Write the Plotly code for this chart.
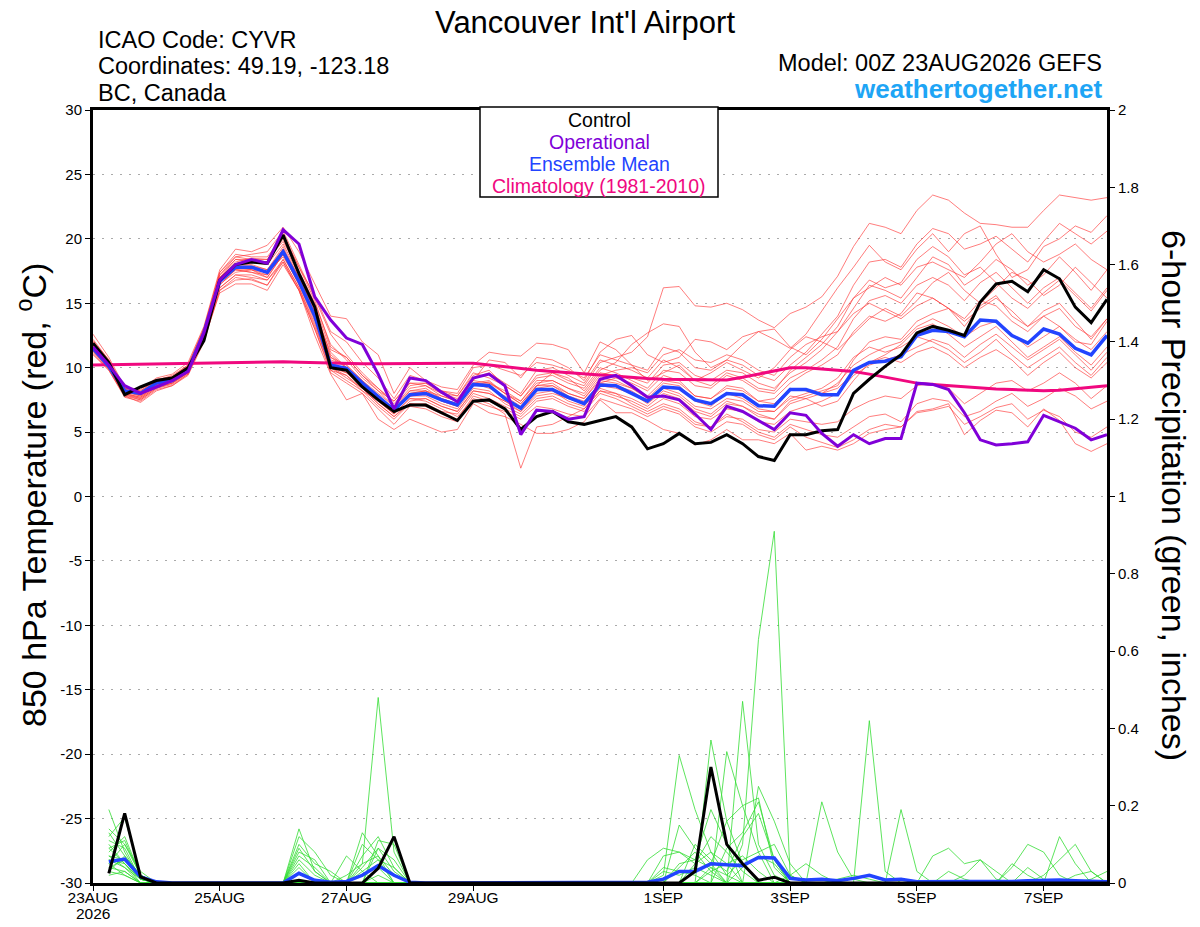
import plotly.graph_objects as go

# forecast steps (hours after 00Z 23AUG2026)
hours_temp = list(range(0, 385, 6))
hours_precip = list(range(6, 385, 6))

tick_hours = [0, 48, 96, 144, 216, 264, 312, 360]
tick_labels = ["23AUG", "25AUG", "27AUG", "29AUG", "1SEP", "3SEP", "5SEP", "7SEP"]
start_year = "2026"

# 850 hPa temperature, deg C
control_temp = [11.9, 10.4, 7.9, 8.5, 9.0, 9.2, 10.0, 12.1, 16.8, 18.0, 18.2, 18.1, 20.3,
                17.3, 14.7, 10.0, 9.8, 8.5, 7.5, 6.6, 7.1, 7.1, 6.5, 5.9, 7.4, 7.5,
                6.8, 5.2, 6.2, 6.6, 5.8, 5.6, 5.9, 6.2, 5.4, 3.7, 4.1, 4.9, 4.1,
                4.2, 4.8, 4.1, 3.1, 2.8, 4.8, 4.8, 5.1, 5.2, 8.0, 9.1, 10.1, 11.0,
                12.7, 13.2, 12.9, 12.5, 15.1, 16.5, 16.7, 15.9, 17.6, 16.9, 14.7, 13.5, 15.3]
operational_temp = [11.6, 10.2, 8.6, 8.0, 8.5, 9.0, 9.7, 12.7, 16.8, 18.0, 18.4, 18.1, 20.7,
                    19.6, 15.5, 13.7, 12.3, 11.8, 9.5, 6.8, 9.2, 9.0, 8.1, 7.35, 9.2, 9.5,
                    8.6, 4.8, 6.7, 6.6, 6.0, 6.2, 9.1, 9.4, 8.6, 7.7, 7.8, 7.5, 6.4,
                    5.2, 7.0, 6.6, 5.9, 5.2, 6.5, 6.3, 4.9, 3.9, 4.8, 4.1, 4.5, 4.5,
                    8.8, 8.7, 8.3, 6.5, 4.4, 4.0, 4.1, 4.25, 6.3, 5.8, 5.3, 4.4, 4.8]
mean_temp = [11.5, 10.1, 8.2, 8.0, 8.8, 9.0, 9.8, 12.7, 16.7, 17.8, 17.8, 17.4, 19.0,
             16.7, 14.0, 10.2, 9.95, 8.8, 7.75, 6.7, 7.9, 8.0, 7.5, 7.1, 8.7, 8.6,
             7.6, 6.85, 8.3, 8.3, 7.7, 7.2, 8.65, 8.6, 8.0, 7.4, 8.5, 8.4, 7.5,
             7.2, 8.0, 7.9, 7.05, 7.0, 8.3, 8.3, 7.9, 7.9, 9.8, 10.4, 10.5, 10.85,
             12.5, 12.9, 12.8, 12.4, 13.7, 13.6, 12.5, 11.9, 13.0, 12.6, 11.5, 11.0, 12.5]
climo_temp = [10.2, 10.22, 10.25, 10.28, 10.3, 10.32, 10.35, 10.37, 10.4, 10.42, 10.43, 10.45, 10.45,
              10.42, 10.38, 10.34, 10.3, 10.3, 10.3, 10.32, 10.33, 10.34, 10.35, 10.35, 10.34, 10.2,
              10.05, 9.9, 9.8, 9.7, 9.6, 9.5, 9.4, 9.3, 9.22, 9.15, 9.1, 9.08, 9.06,
              9.05, 9.05, 9.25, 9.5, 9.75, 10.0, 10.0, 9.9, 9.8, 9.7, 9.5, 9.25, 9.0,
              8.8, 8.7, 8.6, 8.5, 8.4, 8.35, 8.3, 8.25, 8.2, 8.25, 8.35, 8.45, 8.6]

t_m01 = [12.2, 10.6, 8.4, 8.2, 9.0, 9.4, 10.2, 13.0, 17.2, 18.6, 18.8, 19.0, 20.6,
         18.0, 15.4, 12.6, 11.0, 9.6, 8.4, 7.2, 8.6, 8.8, 8.0, 7.8, 9.4, 9.8,
         8.6, 7.8, 9.4, 9.6, 9.0, 8.6, 10.4, 10.8, 11.2, 12.4, 16.2, 16.3, 14.8,
         14.7, 15.0, 14.5, 13.7, 13.1, 14.2, 14.7, 15.5, 17.1, 19.4, 21.2, 20.9, 20.4,
         22.2, 23.4, 23.0, 22.0, 21.2, 21.1, 20.9, 20.9, 22.2, 23.4, 23.2, 23.0, 23.2]
t_m02 = [11.8, 10.3, 8.3, 7.9, 8.7, 9.1, 10.0, 12.9, 17.0, 18.2, 18.5, 18.4, 19.8,
         17.5, 15.0, 11.8, 10.6, 9.2, 8.2, 7.0, 8.4, 8.6, 7.8, 7.4, 9.0, 10.6,
         10.4, 9.2, 10.8, 10.6, 10.0, 9.0, 11.2, 12.2, 12.5, 11.0, 10.4, 10.8, 12.2,
         12.0, 11.4, 12.4, 12.8, 12.2, 11.5, 12.6, 14.4, 16.2, 17.8, 19.5, 18.2, 17.6,
         19.2, 20.4, 19.0, 20.4, 21.0, 18.8, 17.0, 17.6, 19.4, 20.0, 21.0, 20.5, 21.8]
t_m03 = [11.2, 9.9, 8.0, 7.6, 8.5, 8.8, 9.6, 12.4, 16.4, 17.6, 17.6, 17.2, 19.2,
         16.8, 14.2, 10.8, 10.2, 9.0, 7.8, 6.8, 7.8, 8.0, 7.6, 7.2, 8.6, 8.9,
         8.0, 7.2, 8.6, 9.6, 9.2, 8.2, 9.8, 10.4, 11.8, 12.7, 13.4, 13.2, 11.2,
         10.0, 10.6, 11.8, 12.8, 13.0, 11.6, 11.0, 12.2, 13.8, 15.4, 16.2, 17.0, 16.4,
         17.8, 18.2, 17.6, 17.0, 18.2, 19.6, 20.4, 19.0, 18.2, 18.8, 19.6, 18.4, 17.6]
t_m04 = [12.6, 10.8, 8.5, 8.3, 9.2, 9.5, 10.4, 13.2, 17.6, 19.2, 19.0, 19.5, 20.9,
         19.0, 16.5, 14.0, 13.8, 12.0, 11.0, 8.0, 10.0, 9.0, 8.5, 8.3, 10.2, 11.2,
         11.0, 10.9, 11.9, 11.8, 11.4, 9.6, 12.0, 11.4, 10.2, 9.0, 9.6, 10.2, 9.0,
         9.6, 10.4, 9.8, 9.2, 10.0, 11.4, 12.4, 12.0, 11.4, 12.6, 13.8, 14.6, 14.0,
         15.2, 16.6, 17.4, 16.0, 15.0, 16.2, 17.4, 16.8, 15.6, 16.4, 17.8, 16.6, 15.4]
t_m05 = [11.0, 9.8, 7.7, 7.4, 8.3, 8.6, 9.4, 12.0, 16.0, 16.8, 16.9, 16.4, 18.4,
         16.2, 13.4, 10.0, 9.4, 8.4, 7.2, 6.2, 7.4, 7.6, 7.0, 6.6, 8.2, 8.0,
         7.4, 6.6, 7.8, 8.0, 7.6, 7.2, 8.8, 9.2, 8.8, 8.2, 9.4, 9.0, 7.8,
         7.6, 8.6, 8.4, 7.4, 7.6, 8.8, 9.6, 10.2, 11.0, 12.8, 14.0, 13.6, 14.2,
         15.8, 15.4, 14.6, 13.8, 15.2, 14.8, 13.6, 12.8, 14.0, 13.2, 12.0, 11.8, 13.6]
t_m06 = [11.4, 10.0, 8.1, 7.8, 8.6, 8.9, 9.7, 12.6, 16.6, 17.6, 17.4, 17.0, 18.8,
         16.4, 13.6, 9.8, 9.4, 8.2, 7.4, 6.4, 7.6, 7.4, 6.8, 6.2, 7.6, 7.2,
         6.4, 2.2, 5.4, 5.6, 6.2, 6.8, 8.2, 8.0, 7.6, 7.0, 8.0, 7.6, 6.6,
         6.2, 7.2, 7.0, 6.4, 6.0, 7.4, 7.8, 8.2, 8.6, 10.6, 12.0, 12.4, 12.2,
         13.6, 14.2, 14.6, 13.2, 14.8, 15.6, 14.0, 13.2, 14.4, 15.0, 13.6, 12.2, 13.8]
t_m07 = [11.6, 10.2, 8.0, 7.7, 8.6, 9.0, 9.8, 12.8, 16.8, 17.8, 17.6, 17.4, 18.6,
         16.6, 13.8, 10.0, 9.6, 8.6, 7.6, 6.6, 7.8, 7.8, 7.2, 6.8, 8.4, 8.2,
         7.2, 6.6, 8.0, 8.2, 7.4, 7.0, 8.4, 8.0, 7.2, 6.6, 7.2, 6.8, 5.8,
         5.4, 6.4, 5.8, 5.0, 4.6, 5.6, 5.2, 4.8, 4.6, 5.4, 6.2, 6.4, 5.8,
         7.2, 7.6, 7.4, 6.2, 6.6, 7.4, 8.0, 7.0, 7.6, 8.4, 7.8, 6.8, 7.4]
t_m08 = [11.8, 10.4, 8.3, 8.1, 8.9, 9.2, 10.0, 13.0, 17.0, 18.4, 18.2, 18.0, 19.6,
         17.2, 14.6, 11.0, 10.0, 8.8, 7.6, 6.8, 8.2, 8.4, 7.6, 7.0, 8.8, 8.4,
         7.8, 7.0, 8.6, 8.8, 8.0, 7.6, 9.2, 9.0, 8.4, 7.6, 8.8, 8.6, 7.4,
         7.0, 8.0, 7.6, 6.8, 6.6, 7.8, 7.6, 7.0, 7.4, 9.0, 10.4, 11.0, 11.8,
         13.0, 13.4, 12.6, 11.6, 12.4, 13.2, 12.0, 10.8, 11.6, 12.4, 11.2, 10.2, 11.6]
t_m09 = [11.3, 9.9, 7.9, 7.5, 8.4, 8.8, 9.6, 12.4, 16.2, 17.2, 17.0, 16.8, 18.2,
         16.0, 13.0, 9.6, 8.8, 8.0, 6.8, 5.6, 7.0, 6.8, 6.2, 5.8, 7.4, 7.0,
         6.6, 6.0, 7.0, 6.8, 6.4, 6.2, 7.6, 7.2, 6.8, 6.2, 6.8, 6.4, 5.4,
         5.0, 5.8, 5.6, 4.8, 4.4, 5.4, 4.6, 4.2, 3.8, 4.4, 5.2, 5.6, 5.4,
         6.6, 6.8, 7.2, 4.8, 5.9, 6.7, 6.5, 5.4, 6.8, 5.9, 4.1, 3.5, 4.1]
t_m10 = [12.0, 10.5, 8.4, 8.2, 9.1, 9.3, 10.1, 13.0, 17.4, 18.8, 18.6, 18.6, 20.2,
         17.8, 15.2, 11.6, 10.8, 9.4, 8.2, 7.4, 8.8, 8.8, 8.2, 7.8, 9.6, 9.2,
         8.6, 7.8, 9.2, 9.4, 8.8, 8.4, 10.0, 9.6, 9.0, 8.4, 9.8, 9.6, 8.6,
         8.4, 9.4, 9.0, 8.2, 8.0, 9.2, 9.8, 10.6, 11.6, 13.8, 15.2, 15.6, 15.0,
         16.4, 17.0, 16.4, 15.2, 16.6, 17.4, 16.2, 15.0, 16.2, 17.0, 15.8, 14.6, 16.2]
t_m11 = [11.1, 9.8, 7.8, 7.3, 8.2, 8.6, 9.5, 12.2, 15.8, 16.5, 16.5, 16.0, 18.0,
         16.0, 12.5, 9.5, 7.5, 8.0, 6.0, 5.2, 6.0, 5.5, 5.0, 5.2, 7.2, 6.5,
         6.2, 5.6, 4.9, 4.9, 5.2, 5.8, 7.5, 6.5, 6.5, 5.9, 5.2, 4.9, 4.0,
         4.4, 5.2, 4.4, 4.4, 4.1, 4.9, 3.6, 3.9, 3.6, 4.1, 4.9, 5.2, 5.4,
         6.5, 6.7, 7.0, 5.6, 6.2, 6.9, 7.2, 6.0, 6.7, 6.2, 5.0, 4.6, 5.4]
t_m12 = [11.7, 10.2, 8.2, 8.0, 8.8, 9.1, 9.9, 12.8, 16.9, 18.0, 18.0, 17.6, 19.4,
         17.0, 14.4, 10.6, 10.2, 9.0, 8.0, 7.0, 8.2, 8.2, 7.8, 7.4, 9.0, 8.8,
         8.2, 7.4, 9.0, 9.0, 8.4, 8.0, 9.6, 9.4, 9.2, 8.8, 10.2, 10.4, 9.4,
         9.0, 9.8, 9.6, 8.8, 8.4, 9.6, 10.4, 11.4, 12.8, 14.6, 16.4, 16.0, 15.4,
         17.0, 18.6, 18.0, 16.4, 17.2, 18.4, 17.6, 16.4, 17.2, 18.6, 17.4, 16.0, 17.6]
t_m13 = [11.5, 10.0, 8.1, 7.9, 8.7, 9.0, 9.8, 12.6, 16.5, 17.4, 17.6, 17.0, 18.8,
         16.6, 14.0, 10.4, 9.8, 8.6, 7.8, 6.6, 7.8, 8.0, 7.4, 7.0, 8.6, 8.6,
         7.6, 6.8, 8.4, 8.6, 7.8, 7.4, 8.8, 8.6, 8.2, 7.4, 8.4, 8.0, 7.0,
         6.8, 7.6, 7.4, 6.6, 6.6, 7.6, 8.0, 8.4, 9.2, 10.8, 11.6, 11.2, 11.6,
         12.4, 12.0, 11.4, 10.4, 11.2, 12.2, 11.0, 10.0, 10.8, 11.6, 10.4, 9.4, 10.8]
t_m14 = [11.9, 10.3, 8.3, 8.0, 8.9, 9.2, 10.1, 12.9, 17.2, 18.4, 18.4, 18.2, 20.0,
         17.4, 14.8, 11.4, 10.8, 9.4, 8.4, 7.4, 8.8, 8.6, 8.0, 7.6, 9.2, 9.6,
         8.8, 8.0, 9.8, 10.0, 9.4, 8.8, 10.6, 10.2, 9.8, 9.2, 10.6, 10.0, 9.0,
         8.6, 9.6, 9.2, 8.4, 8.2, 9.8, 10.8, 11.8, 13.2, 15.4, 16.8, 16.2, 16.6,
         18.4, 19.4, 18.6, 17.2, 17.8, 16.6, 15.4, 14.6, 15.8, 16.8, 15.6, 14.4, 16.0]
t_m15 = [11.4, 10.0, 7.9, 7.6, 8.5, 8.8, 9.6, 12.3, 16.2, 17.2, 17.2, 16.8, 18.4,
         16.2, 13.2, 10.0, 9.2, 8.4, 7.2, 6.2, 7.2, 7.2, 6.6, 6.4, 8.0, 7.6,
         7.0, 6.4, 7.6, 7.8, 7.2, 6.8, 8.2, 7.8, 7.4, 6.8, 7.6, 7.2, 6.2,
         6.0, 6.8, 6.6, 5.8, 5.6, 6.6, 7.0, 7.4, 8.0, 9.4, 10.2, 10.6, 11.0,
         11.6, 12.2, 11.8, 10.8, 11.8, 12.6, 11.6, 10.6, 11.4, 12.2, 11.0, 9.8, 11.2]
t_m16 = [11.6, 10.1, 8.2, 7.8, 8.7, 9.0, 9.9, 12.6, 16.8, 17.8, 17.8, 17.4, 19.2,
         16.8, 14.2, 11.2, 10.0, 8.8, 7.6, 6.6, 8.0, 8.2, 7.4, 7.0, 8.8, 9.0,
         8.0, 7.4, 8.8, 9.0, 8.4, 7.8, 9.4, 9.8, 10.0, 9.6, 11.0, 11.4, 10.6,
         10.4, 11.0, 10.6, 9.8, 9.4, 10.8, 11.8, 12.4, 12.8, 14.2, 15.0, 14.4, 13.8,
         14.8, 15.4, 14.6, 13.6, 14.6, 15.4, 14.4, 13.2, 14.0, 14.6, 13.2, 12.4, 13.8]
t_m17 = [11.3, 9.9, 7.8, 7.5, 8.4, 8.7, 9.5, 12.2, 16.0, 17.0, 16.8, 16.4, 18.2,
         16.0, 13.0, 9.8, 9.0, 8.2, 7.0, 6.0, 7.2, 7.0, 6.4, 6.0, 7.8, 7.4,
         6.8, 6.2, 7.4, 7.6, 7.0, 6.6, 8.0, 7.6, 7.0, 6.4, 7.0, 6.6, 5.6,
         5.4, 6.2, 6.0, 5.2, 5.0, 6.0, 5.8, 5.6, 5.8, 6.8, 7.4, 7.8, 7.6,
         8.6, 8.8, 8.4, 7.2, 8.0, 8.8, 9.0, 8.2, 8.8, 9.6, 8.8, 7.6, 8.6]
t_m18 = [12.1, 10.6, 8.4, 8.1, 9.0, 9.3, 10.2, 13.1, 17.4, 18.6, 18.4, 18.4, 20.4,
         17.8, 15.6, 12.8, 12.0, 10.4, 9.2, 7.6, 9.4, 9.0, 8.2, 8.0, 10.0, 10.2,
         9.8, 9.4, 10.4, 10.2, 9.8, 9.2, 11.0, 10.6, 10.2, 9.8, 11.6, 11.2, 10.0,
         9.8, 10.6, 10.2, 9.4, 9.0, 10.2, 11.2, 12.6, 14.0, 16.4, 18.2, 18.4, 17.8,
         19.6, 20.8, 20.4, 19.2, 19.6, 20.2, 19.2, 18.2, 19.8, 21.2, 20.4, 19.6, 20.6]
t_m19 = [11.5, 10.0, 8.0, 7.7, 8.6, 9.0, 9.7, 12.5, 16.6, 17.6, 17.4, 17.2, 18.8,
         16.5, 13.8, 10.2, 9.6, 8.6, 7.4, 6.4, 7.6, 7.6, 7.0, 6.6, 8.2, 8.0,
         7.4, 6.8, 8.2, 8.4, 7.6, 7.2, 8.6, 8.4, 8.0, 7.2, 8.2, 7.8, 6.8,
         6.4, 7.4, 7.0, 6.2, 6.0, 7.2, 7.6, 8.0, 8.8, 10.2, 11.0, 11.6, 12.0,
         13.2, 13.8, 13.2, 12.4, 13.2, 13.6, 12.6, 11.6, 12.4, 13.2, 12.2, 11.4, 12.8]
t_m20 = [11.7, 10.3, 8.2, 7.9, 8.8, 9.2, 9.9, 12.8, 16.8, 17.9, 17.9, 17.6, 19.2,
         17.0, 14.4, 10.8, 10.0, 8.8, 7.8, 6.8, 8.0, 8.2, 7.6, 7.2, 8.8, 8.8,
         8.0, 7.2, 8.6, 8.6, 8.0, 7.6, 9.0, 8.8, 8.4, 7.8, 9.0, 8.8, 7.8,
         7.6, 8.4, 8.2, 7.4, 7.2, 8.4, 8.2, 8.0, 8.4, 9.6, 10.4, 10.8, 10.4,
         11.2, 11.6, 11.0, 10.0, 10.8, 11.4, 10.6, 9.4, 10.4, 11.2, 10.0, 9.2, 10.4]

# 6-hour precipitation, inches (hours 6..384)
control_precip = [.025, .18, .016, 0, 0, 0, 0, 0, 0, 0, 0, 0, .007, 0, 0, 0,
                  0, .038, .12, 0, 0, 0, 0, 0, 0, 0, 0, 0, 0, 0, 0, 0,
                  0, 0, 0, 0, 0, .03, .30, .10, .05, .007, .015, 0, 0, 0, 0, 0,
                  0, 0, 0, 0, 0, 0, 0, 0, 0, 0, 0, 0, 0, 0, 0, 0]
mean_precip = [.055, .062, .016, .003, 0, 0, 0, 0, 0, 0, 0, 0, .025, .007, .002, .004,
               .02, .045, .02, .002, 0, 0, 0, 0, 0, 0, 0, 0, 0, 0, 0, 0,
               0, 0, .002, .01, .03, .03, .05, .047, .045, .066, .065, .012, .008, .01, .006, .012,
               .02, .008, .01, .003, .004, .005, .004, .004, .003, .004, .006, .008, .008, .006, .004, .003]

p_m01 = [.19, .08, .01, 0, 0, 0, 0, 0, 0, 0, 0, 0, .14, .03, 0, 0,
         0, .02, 0, 0, 0, 0, 0, 0, 0, 0, 0, 0, 0, 0, 0, 0,
         0, 0, 0, .02, .33, .19, .08, .02, 0, 0, 0, 0, 0, 0, 0, 0,
         0, 0, 0, 0, 0, 0, 0, 0, 0, .05, .02, 0, 0, 0, 0, 0]
p_m02 = [.12, .17, .02, 0, 0, 0, 0, 0, 0, 0, 0, 0, 0, 0, 0, 0,
         .05, .48, .08, 0, 0, 0, 0, 0, 0, 0, 0, 0, 0, 0, 0, 0,
         0, 0, 0, 0, 0, 0, .37, .16, .05, 0, 0, 0, 0, 0, 0, 0,
         0, 0, 0, 0, 0, 0, 0, 0, 0, 0, 0, 0, .12, .05, 0, 0]
p_m03 = [.09, .05, .01, 0, 0, 0, 0, 0, 0, 0, 0, 0, .12, .08, .02, 0,
         0, 0, 0, 0, 0, 0, 0, 0, 0, 0, 0, 0, 0, 0, 0, 0,
         0, 0, 0, 0, 0, 0, 0, 0, .47, .10, .02, 0, 0, 0, 0, 0,
         0, 0, 0, 0, 0, 0, 0, 0, 0, 0, 0, 0, 0, 0, 0, 0]
p_m04 = [.07, .06, .01, 0, 0, 0, 0, 0, 0, 0, 0, 0, 0, 0, 0, 0,
         0, 0, 0, 0, 0, 0, 0, 0, 0, 0, 0, 0, 0, 0, 0, 0,
         0, 0, 0, 0, 0, 0, 0, 0, .10, .63, .91, .02, 0, 0, 0, 0,
         0, 0, 0, 0, 0, 0, 0, 0, 0, 0, 0, 0, 0, 0, 0, 0]
p_m05 = [.05, .10, .03, 0, 0, 0, 0, 0, 0, 0, 0, 0, 0, 0, 0, 0,
         .13, .07, .02, 0, 0, 0, 0, 0, 0, 0, 0, 0, 0, 0, 0, 0,
         0, 0, 0, 0, .15, .09, .05, 0, 0, 0, 0, 0, 0, .21, .08, .01,
         0, 0, 0, 0, 0, 0, 0, 0, 0, 0, 0, 0, 0, 0, 0, 0]
p_m06 = [.04, .03, 0, 0, 0, 0, 0, 0, 0, 0, 0, 0, .07, .04, 0, 0,
         0, 0, 0, 0, 0, 0, 0, 0, 0, 0, 0, 0, 0, 0, 0, 0,
         0, 0, 0, 0, 0, 0, 0, .34, .20, .08, 0, 0, 0, 0, 0, 0,
         .42, .03, 0, 0, 0, 0, 0, 0, 0, 0, 0, 0, 0, 0, 0, 0]
p_m07 = [.06, .04, .01, 0, 0, 0, 0, 0, 0, 0, 0, 0, 0, 0, 0, 0,
         .10, .06, 0, 0, 0, 0, 0, 0, 0, 0, 0, 0, 0, 0, 0, 0,
         0, 0, .06, .09, .08, .06, .19, .10, 0, 0, 0, 0, 0, 0, 0, 0,
         0, 0, .19, .03, 0, 0, 0, 0, 0, 0, 0, 0, 0, 0, 0, 0]
p_m08 = [.03, .07, .02, 0, 0, 0, 0, 0, 0, 0, 0, 0, 0, 0, 0, .07,
         .03, 0, 0, 0, 0, 0, 0, 0, 0, 0, 0, 0, 0, 0, 0, 0,
         0, 0, 0, 0, 0, 0, 0, 0, 0, .25, .16, .05, 0, 0, 0, 0,
         0, 0, 0, 0, .07, .09, .05, .06, .01, 0, 0, 0, 0, 0, 0, 0]
p_m09 = [.10, .05, 0, 0, 0, 0, 0, 0, 0, 0, 0, 0, 0, 0, 0, 0,
         0, .09, .06, 0, 0, 0, 0, 0, 0, 0, 0, 0, 0, 0, 0, 0,
         0, 0, 0, .07, .08, .05, .08, .05, 0, 0, 0, 0, 0, 0, 0, 0,
         0, 0, 0, 0, 0, 0, 0, 0, 0, .04, .10, .08, .02, 0, 0, 0]
p_m10 = [.08, .12, .02, 0, 0, 0, 0, 0, 0, 0, 0, 0, .05, 0, 0, 0,
         0, 0, 0, 0, 0, 0, 0, 0, 0, 0, 0, 0, 0, 0, 0, 0,
         0, 0, 0, 0, 0, .03, .05, .16, .20, .22, .04, 0, 0, 0, 0, 0,
         0, 0, 0, 0, 0, 0, 0, 0, 0, 0, 0, .02, .06, .10, .03, 0]
p_m11 = [.02, .03, 0, 0, 0, 0, 0, 0, 0, 0, 0, 0, .09, .03, 0, 0,
         .07, .12, .04, 0, 0, 0, 0, 0, 0, 0, 0, 0, 0, 0, 0, 0,
         0, 0, 0, 0, .05, .06, .04, 0, 0, 0, 0, 0, 0, 0, 0, 0,
         0, 0, 0, 0, 0, 0, 0, 0, 0, 0, 0, 0, 0, 0, .01, .03]
p_m12 = [.11, .09, .01, 0, 0, 0, 0, 0, 0, 0, 0, 0, 0, 0, 0, 0,
         0, .11, .10, 0, 0, 0, 0, 0, 0, 0, 0, 0, 0, 0, 0, 0,
         0, 0, 0, 0, 0, 0, .03, .05, .07, .03, 0, 0, 0, 0, 0, 0,
         0, 0, 0, 0, 0, 0, 0, 0, 0, 0, 0, 0, 0, 0, 0, 0]
p_m13 = [.05, .02, 0, 0, 0, 0, 0, 0, 0, 0, 0, 0, .10, .05, .03, 0,
         0, 0, 0, 0, 0, 0, 0, 0, 0, 0, 0, 0, 0, 0, 0, 0,
         0, 0, 0, 0, 0, .10, .06, .03, .12, .18, .06, 0, 0, 0, 0, 0,
         0, 0, 0, 0, 0, 0, .02, .06, .03, 0, 0, 0, 0, 0, 0, 0]
p_m14 = [.13, .07, .02, 0, 0, 0, 0, 0, 0, 0, 0, 0, 0, 0, 0, .02,
         .05, .07, 0, 0, 0, 0, 0, 0, 0, 0, 0, 0, 0, 0, 0, 0,
         0, 0, 0, .04, .03, .02, 0, 0, 0, 0, 0, .02, .05, .02, 0, 0,
         0, 0, 0, 0, 0, 0, 0, 0, 0, 0, 0, 0, 0, 0, 0, 0]
p_m15 = [.04, .06, .01, 0, 0, 0, 0, 0, 0, 0, 0, 0, .06, .02, 0, 0,
         0, 0, 0, 0, 0, 0, 0, 0, 0, 0, 0, 0, 0, 0, 0, 0,
         0, 0, 0, 0, 0, 0, 0, .09, .13, .21, .06, 0, 0, 0, 0, 0,
         0, 0, 0, 0, 0, 0, 0, 0, 0, 0, 0, 0, 0, 0, 0, 0]
p_m16 = [.07, .04, 0, 0, 0, 0, 0, 0, 0, 0, 0, 0, 0, 0, 0, 0,
         .04, .09, .03, 0, 0, 0, 0, 0, 0, 0, 0, 0, 0, 0, 0, 0,
         0, 0, 0, 0, 0, .05, .12, .08, .03, 0, 0, 0, 0, 0, 0, 0,
         0, 0, 0, 0, 0, 0, 0, 0, 0, 0, .04, .01, 0, 0, 0, 0]
p_m17 = [.03, .02, 0, 0, 0, 0, 0, 0, 0, 0, 0, 0, .04, 0, 0, 0,
         0, 0, 0, 0, 0, 0, 0, 0, 0, 0, 0, 0, 0, 0, 0, 0,
         0, 0, 0, 0, 0, 0, .04, .02, .06, .08, .10, .02, 0, 0, 0, 0,
         0, 0, 0, 0, 0, .03, .01, 0, 0, 0, 0, 0, 0, 0, 0, 0]
p_m18 = [.09, .11, .02, 0, 0, 0, 0, 0, 0, 0, 0, 0, 0, 0, 0, 0,
         0, .04, 0, 0, 0, 0, 0, 0, 0, 0, 0, 0, 0, 0, 0, 0,
         0, 0, 0, 0, .04, .08, .03, 0, 0, 0, 0, 0, 0, 0, 0, 0,
         0, 0, 0, 0, 0, 0, 0, 0, 0, 0, 0, 0, 0, 0, 0, 0]
p_m19 = [.06, .05, .01, 0, 0, 0, 0, 0, 0, 0, 0, 0, .08, .06, 0, 0,
         0, 0, 0, 0, 0, 0, 0, 0, 0, 0, 0, 0, 0, 0, 0, 0,
         0, 0, 0, 0, 0, 0, 0, 0, .04, .07, .05, 0, 0, 0, .01, .02,
         .01, 0, 0, 0, 0, 0, 0, 0, 0, 0, 0, 0, 0, 0, 0, 0]
p_m20 = [.14, .10, .02, 0, 0, 0, 0, 0, 0, 0, 0, 0, 0, 0, 0, 0,
         .03, .06, .04, 0, 0, 0, 0, 0, 0, 0, 0, 0, 0, 0, 0, 0,
         0, 0, 0, .03, .02, .04, .02, 0, 0, 0, 0, 0, 0, 0, 0, 0,
         0, 0, 0, 0, 0, 0, 0, 0, 0, 0, 0, 0, 0, .02, .03, 0]

temp_members = [t_m01, t_m02, t_m03, t_m04, t_m05, t_m06, t_m07, t_m08, t_m09, t_m10,
                t_m11, t_m12, t_m13, t_m14, t_m15, t_m16, t_m17, t_m18, t_m19, t_m20]
precip_members = [p_m01, p_m02, p_m03, p_m04, p_m05, p_m06, p_m07, p_m08, p_m09, p_m10,
                  p_m11, p_m12, p_m13, p_m14, p_m15, p_m16, p_m17, p_m18, p_m19, p_m20]

FONT = "Liberation Sans, Arial, Helvetica, sans-serif"
OFF = 8  # page body margin
W, H = 1200 - 2 * OFF, 927 - 2 * OFF
# plot area in page pixels
L, R, T, B = 93, 1107, 110, 883


def px_x(px):
    return (px - L) / (R - L)


def px_y(py):
    return (B - py) / (B - T)


fig = go.Figure()

for m in temp_members:
    fig.add_trace(go.Scatter(x=hours_temp, y=m, mode="lines",
                             line=dict(color="rgba(255,50,50,0.8)", width=0.8)))
for m in precip_members:
    fig.add_trace(go.Scatter(x=hours_precip, y=m, yaxis="y2", mode="lines",
                             line=dict(color="#33dd33", width=0.8)))

fig.add_trace(go.Scatter(x=hours_temp, y=climo_temp, mode="lines",
                         line=dict(color="#f0087f", width=3)))
fig.add_trace(go.Scatter(x=hours_temp, y=mean_temp, mode="lines",
                         line=dict(color="#2244ff", width=3.5)))
fig.add_trace(go.Scatter(x=hours_precip, y=mean_precip, yaxis="y2", mode="lines",
                         line=dict(color="#2244ff", width=3.5)))
fig.add_trace(go.Scatter(x=hours_temp, y=control_temp, mode="lines",
                         line=dict(color="black", width=3)))
fig.add_trace(go.Scatter(x=hours_precip, y=control_precip, yaxis="y2", mode="lines",
                         line=dict(color="black", width=3)))
fig.add_trace(go.Scatter(x=hours_temp, y=operational_temp, mode="lines",
                         line=dict(color="#8000d8", width=3)))

left_ticks = list(range(-30, 31, 5))

fig.update_layout(
    width=W, height=H,
    margin=dict(l=L - OFF, r=W - (R - OFF), t=T - OFF, b=H - (B - OFF)),
    paper_bgcolor="white", plot_bgcolor="white",
    showlegend=False,
    font=dict(family=FONT, color="black", size=15),
    xaxis=dict(range=[0, 384], tickvals=tick_hours, ticktext=tick_labels,
               showgrid=False, zeroline=False, showline=True, linewidth=3,
               linecolor="black", mirror=True, ticks="outside", ticklen=5,
               tickcolor="black", tickfont=dict(size=15.5), automargin=False,
               ticklabelstandoff=-7),
    yaxis=dict(range=[-30, 30], tickvals=left_ticks,
               ticktext=[str(v) for v in left_ticks],
               showgrid=True, gridcolor="#aaaaaa", griddash="2px,7px", gridwidth=1,
               zeroline=False, showline=True, linewidth=3, linecolor="black",
               ticks="outside", ticklen=5, tickcolor="black", tickfont=dict(size=15),
               automargin=False),
    yaxis2=dict(range=[0, 2], dtick=0.2, overlaying="y", side="right",
                showgrid=False, zeroline=False, showline=True, linewidth=3,
                linecolor="black", ticks="outside", ticklen=5, tickcolor="black",
                tickfont=dict(size=15), automargin=False),
)

# year under the first date label
fig.add_annotation(text=start_year, xref="paper", yref="paper", x=px_x(93), y=px_y(913),
                   showarrow=False, font=dict(size=15.5, family=FONT),
                   xanchor="center", yanchor="middle")

# legend box
fig.add_shape(type="rect", xref="paper", yref="paper",
              x0=px_x(480), x1=px_x(718), y0=px_y(197), y1=px_y(107),
              fillcolor="white", line=dict(color="black", width=1.5), layer="above")
legend_items = [("Control", "black", 120), ("Operational", "#8000d8", 142),
                ("Ensemble Mean", "#2244ff", 164), ("Climatology (1981-2010)", "#f0087f", 186)]
for text, color, py in legend_items:
    fig.add_annotation(text=text, xref="paper", yref="paper", x=px_x(599), y=px_y(py),
                       showarrow=False, font=dict(size=19.5, color=color, family=FONT),
                       xanchor="center", yanchor="middle")

# titles and header text
fig.add_annotation(text="Vancouver Int'l Airport", xref="paper", yref="paper",
                   x=px_x(585), y=px_y(22), showarrow=False,
                   font=dict(size=31, family=FONT), xanchor="center", yanchor="middle")
for text, py in [("ICAO Code: CYVR", 40), ("Coordinates: 49.19, -123.18", 66),
                 ("BC, Canada", 93)]:
    fig.add_annotation(text=text, xref="paper", yref="paper", x=px_x(96), y=px_y(py),
                       showarrow=False, font=dict(size=23.5, family=FONT),
                       xanchor="left", yanchor="middle")
fig.add_annotation(text="Model: 00Z 23AUG2026 GEFS", xref="paper", yref="paper",
                   x=px_x(1104), y=px_y(63), showarrow=False,
                   font=dict(size=23.5, family=FONT), xanchor="right", yanchor="middle")
fig.add_annotation(text="<b>weathertogether.net</b>", xref="paper", yref="paper",
                   x=px_x(1104), y=px_y(89), showarrow=False,
                   font=dict(size=26, family=FONT, color="#1ea5f5"),
                   xanchor="right", yanchor="middle")

# axis titles
fig.add_annotation(text="850 hPa Temperature (red, <sup>o</sup>C)", xref="paper", yref="paper",
                   x=px_x(31), y=px_y(495), showarrow=False, textangle=-90,
                   font=dict(size=34, family=FONT), xanchor="center", yanchor="middle")
fig.add_annotation(text="6-hour Precipitation (green, inches)", xref="paper", yref="paper",
                   x=px_x(1174), y=px_y(495), showarrow=False, textangle=90,
                   font=dict(size=34, family=FONT), xanchor="center", yanchor="middle")

fig.write_html("out.html")
